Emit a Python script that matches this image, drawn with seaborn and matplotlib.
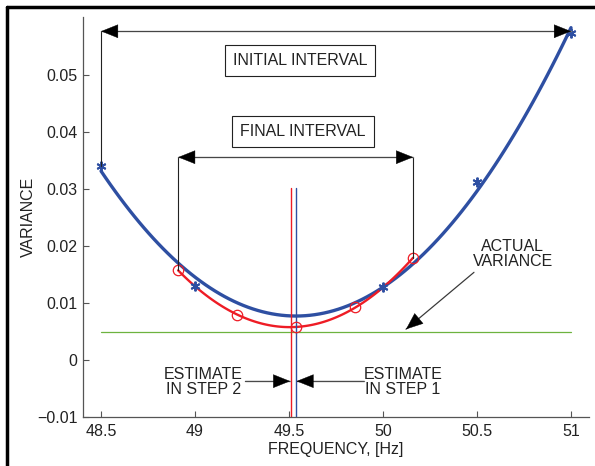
import numpy as np
import pandas as pd
import matplotlib
matplotlib.use("Agg")
import matplotlib.pyplot as plt
from matplotlib.lines import Line2D
import seaborn as sns

# ── data ──────────────────────────────────────────────────────────────────────

step1_freq = [48.5, 49.0, 50.0, 50.5, 51.0]
step1_var = [0.0341, 0.0130, 0.0128, 0.0312, 0.0574]

step2_freq = [48.91, 49.223, 49.537, 49.85, 50.16]
step2_var = [0.0158, 0.0079, 0.0058, 0.0093, 0.0179]

actual_variance = 0.005
estimate_step1 = 49.537
estimate_step2 = 49.509

initial_interval = (48.5, 51.0)
final_interval = (48.91, 50.16)

x_ticks = [48.5, 49, 49.5, 50, 50.5, 51]
x_tick_labels = ["48.5", "49", "49.5", "50", "50.5", "51"]
y_ticks = [-0.01, 0, 0.01, 0.02, 0.03, 0.04, 0.05]
y_tick_labels = ["\u22120.01", "0", "0.01", "0.02", "0.03", "0.04", "0.05"]

# ── style ─────────────────────────────────────────────────────────────────────

BLUE = "#2E4FA2"
RED = "#EE1C25"
GREEN = "#6DB33F"
GRAY = "#777777"
DARK = "#222222"
FS = 11.5

sns.set_theme(style="white")
plt.rcParams.update({
    "font.family": ["Liberation Sans", "DejaVu Sans"],
    "font.size": FS,
    "axes.edgecolor": "#555555",
    "axes.linewidth": 0.9,
    "xtick.direction": "in",
    "ytick.direction": "in",
    "xtick.color": "#555555",
    "ytick.color": "#555555",
    "xtick.labelcolor": DARK,
    "ytick.labelcolor": DARK,
    "xtick.labelsize": FS,
    "ytick.labelsize": FS,
})

s1 = pd.DataFrame({"freq": step1_freq, "var": step1_var})
s2 = pd.DataFrame({"freq": step2_freq, "var": step2_var})

fig = plt.figure(figsize=(5.95, 4.66), dpi=100)
ax = fig.add_axes([0.1395, 0.105, 0.8505, 0.8585])

# fitted parabolas
sns.regplot(data=s1, x="freq", y="var", order=2, ci=None, scatter=False,
            truncate=True, ax=ax, line_kws={"color": BLUE, "lw": 2.4})
sns.regplot(data=s2, x="freq", y="var", order=2, ci=None, scatter=False,
            truncate=True, ax=ax, line_kws={"color": RED, "lw": 1.7})

# actual variance
ax.plot(initial_interval, [actual_variance] * 2, color=GREEN, lw=0.9)

# estimates
ax.plot([estimate_step2] * 2, [-0.01, 0.0302], color=RED, lw=1.0)
ax.plot([estimate_step1] * 2, [-0.01, 0.0302], color=BLUE, lw=1.0)

# samples
ax.plot(s1["freq"], s1["var"], ls="none", marker=(6, 2, 0), ms=7,
        mec=BLUE, mew=1.4)
ax.plot(s2["freq"], s2["var"], ls="none", marker="o", ms=7.5,
        mfc="none", mec=RED, mew=0.9)


def arrow(ax, tip, tail, both=False):
    """Gray shaft with black stealth-like heads."""
    ax.plot([tail[0], tip[0]], [tail[1], tip[1]], color=GRAY, lw=1.0)
    style = "<|-|>" if both else "-|>"
    ax.annotate("", xy=tip, xytext=tail,
                arrowprops=dict(arrowstyle=f"{style},head_length=0.65,head_width=0.26",
                                mutation_scale=18, fc="black", ec="black",
                                lw=0.3, shrinkA=0, shrinkB=0))


# ── interval arrows ───────────────────────────────────────────────────────────
y_init = 0.0577
ax.plot([initial_interval[0]] * 2, [step1_var[0], y_init], color=DARK, lw=0.8)
arrow(ax, (initial_interval[1], y_init), (initial_interval[0], y_init), both=True)

y_final = 0.0356
ax.plot([final_interval[0]] * 2, [step2_var[0], y_final], color=DARK, lw=0.8)
ax.plot([final_interval[1]] * 2, [step2_var[-1], y_final], color=DARK, lw=0.8)
arrow(ax, (final_interval[1], y_final), (final_interval[0], y_final), both=True)

box = dict(boxstyle="square,pad=0.5", fc="white", ec=DARK, lw=0.8)
ax.text(49.558, 0.0525, "INITIAL INTERVAL", ha="center", va="center",
        color=DARK, bbox=box)
ax.text(49.574, 0.0401, "FINAL INTERVAL", ha="center", va="center",
        color=DARK, bbox=box)

# ── text annotations ──────────────────────────────────────────────────────────
ax.text(50.69, 0.0186, "ACTUAL\nVARIANCE", ha="center", va="center",
        color=DARK, linespacing=1.0)
arrow(ax, (50.122, 0.0054), (50.484, 0.0154))

ax.text(49.045, -0.0038, "ESTIMATE\nIN STEP 2", ha="center", va="center",
        color=DARK, linespacing=1.0)
arrow(ax, (estimate_step2 - 0.003, -0.0037), (49.266, -0.0037))

ax.text(50.106, -0.0038, "ESTIMATE\nIN STEP 1", ha="center", va="center",
        color=DARK, linespacing=1.0)
arrow(ax, (estimate_step1 + 0.003, -0.0037), (49.9, -0.0037))

# ── axes ──────────────────────────────────────────────────────────────────────
ax.set_xlim(48.404, 51.096)
ax.set_ylim(-0.01, 0.0602)
ax.set_xticks(x_ticks)
ax.set_xticklabels(x_tick_labels)
ax.set_yticks(y_ticks)
ax.set_yticklabels(y_tick_labels)
ax.tick_params(axis="both", length=4, width=0.8, left=True, bottom=True)
ax.tick_params(axis="x", pad=5)
ax.tick_params(axis="y", pad=4)
sns.despine(ax=ax)
ax.set_xlabel("FREQUENCY, [Hz]", color=DARK, fontsize=FS, labelpad=2)
ax.set_ylabel("VARIANCE", color=DARK, fontsize=FS, labelpad=1)

# figure frame (left and top edges)
fig.add_artist(Line2D([0.011, 0.011], [0, 0.985], transform=fig.transFigure,
                      color="black", lw=2.5))
fig.add_artist(Line2D([0.011, 1.0], [0.985, 0.985], transform=fig.transFigure,
                      color="black", lw=2.5))

fig.savefig("out.png", dpi=100, facecolor="white")
